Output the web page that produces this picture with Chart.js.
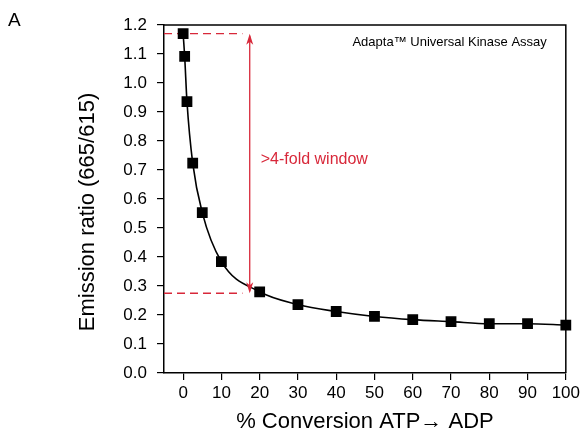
<!DOCTYPE html>
<html>
<head>
<meta charset="utf-8">
<script src="https://cdn.jsdelivr.net/npm/chart.js@4.4.1/dist/chart.umd.min.js"></script>
<style>
  html, body { margin: 0; padding: 0; background: #fff; }
  #wrap { width: 583px; height: 435px; position: relative; }
</style>
</head>
<body>
<div id="wrap"><canvas id="c" width="583" height="435"></canvas></div>
<script>
// ── Data ────────────────────────────────────
const conversion = [0, 0.4, 1, 2.5, 5, 10, 20, 30, 40, 50, 60, 70, 80, 90, 100];
const ratio      = [1.17, 1.092, 0.936, 0.724, 0.553, 0.384, 0.28, 0.236, 0.212, 0.195, 0.184, 0.177, 0.17, 0.17, 0.165];

const xTicks = [0, 10, 20, 30, 40, 50, 60, 70, 80, 90, 100];
const yTicks = [0, 0.1, 0.2, 0.3, 0.4, 0.5, 0.6, 0.7, 0.8, 0.9, 1.0, 1.1, 1.2];

// window annotation: top / bottom ratio, arrow at x
const windowTop    = 1.17;
const windowBottom = 0.275;
const arrowX       = 17.4;
const dashEndX     = 15.5;

const RED  = "#d8283a";
const FONT = "'Liberation Sans', Arial, Helvetica, sans-serif";

// ── Extra drawing: frame, arrow, texts ──────
const decor = {
  id: "decor",
  afterDraw(chart) {
    const { ctx, chartArea: a, scales: { x, y } } = chart;
    ctx.save();

    // frame
    ctx.strokeStyle = "#000";
    ctx.lineWidth = 1.5;
    ctx.beginPath();
    ctx.moveTo(a.left, a.top);
    ctx.lineTo(a.right, a.top);
    ctx.lineTo(a.right, a.bottom);
    ctx.stroke();

    // double arrow
    const ax = x.getPixelForValue(arrowX);
    const y1 = y.getPixelForValue(windowTop);
    const y2 = y.getPixelForValue(windowBottom);
    ctx.strokeStyle = RED;
    ctx.fillStyle = RED;
    ctx.lineWidth = 1.3;
    ctx.beginPath();
    ctx.moveTo(ax, y1 + 2);
    ctx.lineTo(ax, y2 - 2);
    ctx.stroke();
    const head = (yy, dir) => {
      ctx.beginPath();
      ctx.moveTo(ax, yy);
      ctx.lineTo(ax - 3.5, yy + dir * 11);
      ctx.lineTo(ax, yy + dir * 8);
      ctx.lineTo(ax + 3.5, yy + dir * 11);
      ctx.closePath();
      ctx.fill();
    };
    head(y1, 1);
    head(y2, -1);

    // labels
    ctx.font = "16px " + FONT;
    ctx.textBaseline = "middle";
    ctx.textAlign = "left";
    ctx.fillText(">4-fold window", ax + 11, y.getPixelForValue(0.735));

    ctx.fillStyle = "#000";
    ctx.font = "13px " + FONT;
    ctx.textAlign = "right";
    ctx.fillText("Adapta\u2122 Universal Kinase Assay", a.right - 19, a.top + 17);

    ctx.font = "19px " + FONT;
    ctx.textAlign = "left";
    ctx.fillText("A", 8, 21);

    // y axis title (sits a little below the axis middle in the original)
    ctx.save();
    ctx.translate(88, 212);
    ctx.rotate(-Math.PI / 2);
    ctx.font = "22px " + FONT;
    ctx.textAlign = "center";
    ctx.fillText("Emission ratio (665/615)", 0, 0);
    ctx.restore();

    ctx.restore();
  }
};

new Chart(document.getElementById("c"), {
  type: "scatter",
  data: {
    datasets: [
      {
        data: conversion.map((v, i) => ({ x: v, y: ratio[i] })),
        showLine: true,
        clip: false,
        borderColor: "#000",
        borderWidth: 1.6,
        cubicInterpolationMode: "monotone",
        pointStyle: "rect",
        pointRadius: 6.5,
        pointBackgroundColor: "#000",
        pointBorderColor: "#000",
        order: 1
      },
      {
        data: [{ x: -5, y: windowTop }, { x: dashEndX, y: windowTop }],
        showLine: true,
        borderColor: RED,
        borderWidth: 1.3,
        borderDash: [8, 5],
        pointRadius: 0,
        order: 2
      },
      {
        data: [{ x: -5, y: windowBottom }, { x: dashEndX, y: windowBottom }],
        showLine: true,
        borderColor: RED,
        borderWidth: 1.3,
        borderDash: [8, 5],
        pointRadius: 0,
        order: 2
      }
    ]
  },
  options: {
    responsive: false,
    animation: false,
    layout: { padding: { left: 0, right: 15, top: 25, bottom: 0 } },
    plugins: {
      legend: { display: false },
      tooltip: { enabled: false }
    },
    scales: {
      x: {
        type: "linear",
        min: -5,
        max: 100,
        afterBuildTicks: s => { s.ticks = xTicks.map(v => ({ value: v })); },
        afterFit: s => { s.height = 62; },
        ticks: { color: "#000", font: { family: FONT, size: 17 }, padding: 3 },
        grid: { drawOnChartArea: false, drawTicks: true, tickLength: 7, color: "#000", lineWidth: 1.2 },
        border: { color: "#000", width: 1.5 },
        title: {
          display: true,
          text: "% Conversion ATP\u2192 ADP",
          color: "#000",
          font: { family: FONT, size: 22 },
          padding: { top: 2, bottom: 0 }
        }
      },
      y: {
        min: 0,
        max: 1.2,
        afterBuildTicks: s => { s.ticks = yTicks.map(v => ({ value: v })); },
        afterFit: s => { s.width = 164; },
        ticks: {
          color: "#000",
          font: { family: FONT, size: 17 },
          padding: 10,
          callback: v => v.toFixed(1)
        },
        grid: { drawOnChartArea: false, drawTicks: true, tickLength: 7, color: "#000", lineWidth: 1.2 },
        border: { color: "#000", width: 1.5 }
      }
    }
  },
  plugins: [decor]
});
</script>
</body>
</html>
